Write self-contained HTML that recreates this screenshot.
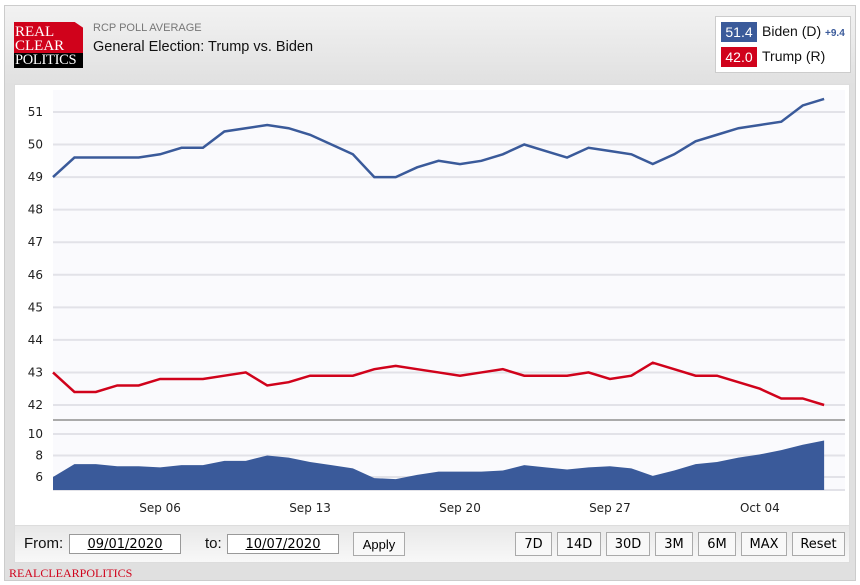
<!DOCTYPE html>
<html><head><meta charset="utf-8">
<style>
body{margin:0;width:860px;height:585px;background:#fff;font-family:"Liberation Sans",sans-serif;overflow:hidden}
.outer{position:absolute;left:4px;top:5px;width:852px;height:576px;background:linear-gradient(#f2f2f2,#e0e0e0 80px,#e0e0e0);border:1px solid #ccc;box-sizing:border-box}
.logo{position:absolute;left:14px;top:22px;width:69px;height:46px;font-family:"Liberation Serif",serif;font-size:15px;line-height:14px;color:#fff}
.btn{position:absolute;top:532px;height:24px;border:1px solid #aaa;background:#f8f8f8;font-size:13px;text-align:center;line-height:24px;box-sizing:border-box;font-family:"DejaVu Sans",sans-serif}
.inp{position:absolute;top:534px;height:20px;border:1px solid #999;background:#fff;box-sizing:border-box;font-size:13px;text-align:center;line-height:19px;text-decoration:underline;font-family:"DejaVu Sans",sans-serif}
</style></head><body>
<div class="outer"></div>
<div class="logo"><div style="background:#d0021b;height:31px;padding:3px 0 0 1px;box-sizing:border-box;clip-path:polygon(0 0,88% 0,100% 18%,100% 100%,0 100%)">REAL<br>CLEAR</div><div style="background:#000;height:15px;padding-left:1px;font-size:14.5px;line-height:15px;letter-spacing:-0.3px">POLITICS</div></div>
<div style="position:absolute;left:93px;top:22px;font-size:11px;color:#777">RCP POLL AVERAGE</div>
<div style="position:absolute;left:93px;top:39px;font-size:14.5px;color:#111">General Election: Trump vs. Biden</div>
<div style="position:absolute;left:715px;top:16px;width:136px;height:57px;background:#fff;border:1px solid #ccc;box-sizing:border-box"></div>
<div style="position:absolute;left:721px;top:22px;width:36px;height:20px;background:#3a5a9a;color:#fff;font-size:14px;text-align:center;line-height:20px">51.4</div>
<div style="position:absolute;left:762px;top:23px;font-size:14px;color:#111">Biden (D) <span style="font-size:10px;color:#3a5a9a;font-weight:bold">+9.4</span></div>
<div style="position:absolute;left:721px;top:47px;width:36px;height:20px;background:#d0021b;color:#fff;font-size:14px;text-align:center;line-height:20px">42.0</div>
<div style="position:absolute;left:762px;top:48px;font-size:14px;color:#111">Trump (R)</div>
<div style="position:absolute;left:14px;top:84px;width:836px;height:442px;background:#fff;border:1px solid #ddd;box-sizing:border-box"></div>
<div style="position:absolute;left:14px;top:525px;width:836px;height:38px;background:linear-gradient(#e8e8e8,#f8f8f8);border:1px solid #ddd;box-sizing:border-box"></div>
<svg id="c" width="860" height="585" style="position:absolute;left:0;top:0"></svg>
<div style="position:absolute;left:24px;top:535px;font-size:15px;color:#111">From:</div>
<div class="inp" style="left:69px;width:112px">09/01/2020</div>
<div style="position:absolute;left:205px;top:535px;font-size:15px;color:#111">to:</div>
<div class="inp" style="left:227px;width:112px">10/07/2020</div>
<div class="btn" style="left:353px;width:52px;font-family:'Liberation Sans',sans-serif">Apply</div>
<div class="btn" style="left:515px;width:37px">7D</div>
<div class="btn" style="left:557px;width:44px">14D</div>
<div class="btn" style="left:606px;width:44px">30D</div>
<div class="btn" style="left:655px;width:38px">3M</div>
<div class="btn" style="left:698px;width:38px">6M</div>
<div class="btn" style="left:741px;width:46px">MAX</div>
<div class="btn" style="left:792px;width:53px">Reset</div>
<div style="position:absolute;left:9px;top:566px;font-family:'Liberation Serif',serif;font-size:12px;color:#d0021b">REALCLEARPOLITICS</div>
<script>
var B=[49.0,49.6,49.6,49.6,49.6,49.7,49.9,49.9,50.4,50.5,50.6,50.5,50.3,50.0,49.7,49.0,49.0,49.3,49.5,49.4,49.5,49.7,50.0,49.8,49.6,49.9,49.8,49.7,49.4,49.7,50.1,50.3,50.5,50.6,50.7,51.2,51.4];
var T=[43.0,42.4,42.4,42.6,42.6,42.8,42.8,42.8,42.9,43.0,42.6,42.7,42.9,42.9,42.9,43.1,43.2,43.1,43.0,42.9,43.0,43.1,42.9,42.9,42.9,43.0,42.8,42.9,43.3,43.1,42.9,42.9,42.7,42.5,42.2,42.2,42.0];
function X(i){return 53+i*21.42}
function Y(v){return 405-(v-42)*32.56}
function Y2(v){return 477-(v-6)*10.75}
var s='<rect x="53" y="90" width="792" height="400" fill="#fafafd"/>';
for(var v=42;v<=51;v++){s+='<line x1="53" x2="845" y1="'+Y(v)+'" y2="'+Y(v)+'" stroke="#e2e2e8" stroke-width="2"/><text x="43" y="'+(Y(v)+4)+'" text-anchor="end" font-size="12" font-family="DejaVu Sans" fill="#222">'+v+'</text>';}
[6,8,10].forEach(function(v){s+='<line x1="53" x2="845" y1="'+Y2(v)+'" y2="'+Y2(v)+'" stroke="#e2e2e8" stroke-width="2"/><text x="43" y="'+(Y2(v)+4)+'" text-anchor="end" font-size="12" font-family="DejaVu Sans" fill="#222">'+v+'</text>';});
s+='<line x1="53" x2="845" y1="490" y2="490" stroke="#e2e2e8" stroke-width="2"/>';
s+='<line x1="53" x2="845" y1="420" y2="420" stroke="#aaa" stroke-width="2"/>';
var a='M53,490',pb='',pt='';
for(var i=0;i<B.length;i++){a+=' L'+X(i)+','+Y2(B[i]-T[i]);pb+=(i?' L':'M')+X(i)+','+Y(B[i]);pt+=(i?' L':'M')+X(i)+','+Y(T[i]);}
a+=' L'+X(36)+',490Z';
s+='<path d="'+a+'" fill="#3a5a9a"/>';
s+='<path d="'+pb+'" fill="none" stroke="#3a5a9a" stroke-width="2.5"/>';
s+='<path d="'+pt+'" fill="none" stroke="#d0021b" stroke-width="2.5"/>';
[['Sep 06',5],['Sep 13',12],['Sep 20',19],['Sep 27',26],['Oct 04',33]].forEach(function(d){s+='<text x="'+X(d[1])+'" y="512" text-anchor="middle" font-size="12" font-family="DejaVu Sans" fill="#222">'+d[0]+'</text>';});
document.getElementById('c').innerHTML=s;
</script>
</body></html>
